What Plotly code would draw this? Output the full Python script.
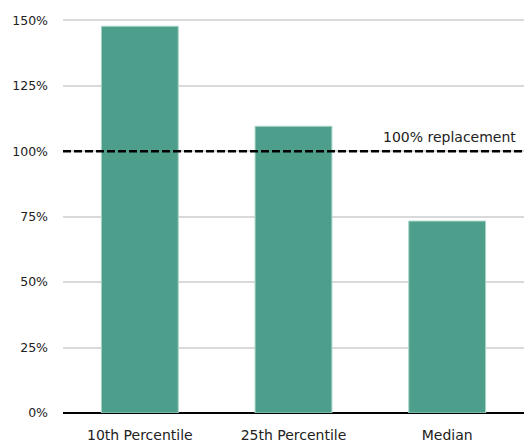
import plotly.graph_objects as go

categories = ["10th Percentile", "25th Percentile", "Median"]
values = [147.7, 109.5, 73.3]
ref_value = 100
ref_label = "100% replacement"
tick_vals = [0, 25, 50, 75, 100, 125, 150]
tick_text = ["0%", "25%", "50%", "75%", "100%", "125%", "150%"]

fig = go.Figure()
fig.add_trace(go.Bar(
    x=categories, y=values,
    marker=dict(color="#4d9e8a", line=dict(color="#a8d4c6", width=1)),
    width=0.5,
))
fig.add_hline(y=ref_value, line=dict(color="black", width=2.5, dash="8px,3px"))
fig.add_annotation(x=1, xref="paper", y=ref_value, yref="y", text=ref_label,
                   showarrow=False, xanchor="right", yanchor="bottom",
                   xshift=-6, yshift=4, font=dict(size=14, color="#222"))

fig.update_layout(
    width=524, height=445,
    margin=dict(l=63, r=0, t=15, b=32),
    plot_bgcolor="white", paper_bgcolor="white",
    font=dict(family="DejaVu Sans", size=12, color="#222"),
    showlegend=False,
    xaxis=dict(showgrid=False, ticks="", showline=False, automargin=False,
               ticklabelstandoff=12, tickfont=dict(size=14)),
    yaxis=dict(range=[0, 152], tickvals=tick_vals, ticktext=tick_text,
               showgrid=True, gridcolor="#d9d9d9", gridwidth=1.5,
               zeroline=True, zerolinecolor="black", zerolinewidth=2, automargin=False,
               ticks="", ticklabelstandoff=14, tickfont=dict(size=12.5)),
)
fig.write_html("out.html")
